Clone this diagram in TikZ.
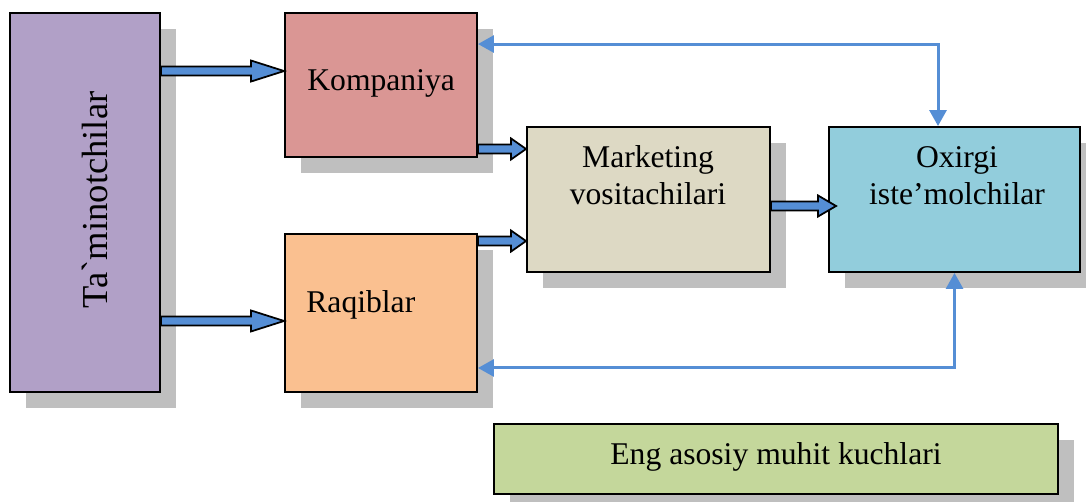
\documentclass[tikz,border=0pt]{standalone}
\usepackage{fontspec}
\setmainfont{Liberation Serif}
\usetikzlibrary{shadows,arrows.meta,calc}
\definecolor{tamrang}{HTML}{B1A0C7}
\definecolor{komprang}{HTML}{DA9694}
\definecolor{raqrang}{HTML}{FAC090}
\definecolor{vosrang}{HTML}{DDD9C4}
\definecolor{isterang}{HTML}{92CDDC}
\definecolor{muhrang}{HTML}{C4D79B}
\definecolor{strelka}{HTML}{558ED5}

\begin{document}
\begin{tikzpicture}[
  box/.style={draw=black,line width=1.1pt,inner sep=0pt,
    general shadow={fill=black!25,shadow xshift=0.32cm,shadow yshift=-0.32cm}},
  yozuv/.style={inner sep=0pt,font=\fontsize{18}{21}\selectfont},
  blokstrelka/.style={fill=strelka,draw=black,line width=1pt,line join=miter,
    to path={let \p1=(\tikztostart), \p2=(\tikztotarget) in
      (\x1,\y1+0.09cm) -- (\x2-#1,\y1+0.09cm) -- (\x2-#1,\y1+0.21cm) -- (\x2,\y1)
      -- (\x2-#1,\y1-0.21cm) -- (\x2-#1,\y1-0.09cm) -- (\x1,\y1-0.09cm) -- cycle}},
  aloqa/.style={draw=strelka,line width=1.7pt,
    {Triangle[length=0.32cm,width=0.34cm]}-{Triangle[length=0.32cm,width=0.34cm]}}
]
\useasboundingbox (0,0) rectangle (21.72,-10.02);
% bloklar
\node[box,fill=tamrang,minimum width=3cm,minimum height=7.58cm] (tam) at (1.70,-4.05) {};
\node[box,fill=komprang,minimum width=3.84cm,minimum height=2.88cm] (komp) at (7.62,-1.70) {};
\node[box,fill=raqrang,minimum width=3.84cm,minimum height=3.16cm] (raq) at (7.62,-6.26) {};
\node[box,fill=vosrang,minimum width=4.86cm,minimum height=2.90cm] (vos) at (12.97,-3.99) {};
\node[box,fill=isterang,minimum width=5.02cm,minimum height=2.90cm] (iste) at (19.09,-3.99) {};
\node[box,fill=muhrang,minimum width=11.28cm,minimum height=1.40cm] (muh) at (15.52,-9.18) {};
% yozuvlar
\node[inner sep=0pt,font=\fontsize{20.8}{24}\selectfont,rotate=90] (tamt) at (1.90,-4.00) {Ta\textasciigrave minotchilar};
\node[yozuv,anchor=base west] (kompt) at (6.14,-1.82) {Kompaniya};
\node[yozuv,anchor=base west] (raqt) at (6.12,-6.24) {Raqiblar};
\node[yozuv,align=center] (vost) at (12.96,-3.51) {Marketing\\vositachilari};
\node[yozuv,align=center] (istet) at (19.14,-3.51) {Oxirgi\\iste’molchilar};
\node[yozuv,anchor=base] (muht) at (15.52,-9.28) {Eng asosiy muhit kuchlari};
% strelkalar
\draw[blokstrelka=0.66cm] ([yshift=-1.18cm]tam.north east) to ([yshift=-1.18cm]komp.north west);
\draw[blokstrelka=0.66cm] ([yshift=1.44cm]tam.south east) to ([yshift=1.44cm]raq.south west);
\draw[blokstrelka=0.30cm] ([yshift=0.18cm]komp.south east) to ([yshift=-0.42cm]vos.north west);
\draw[blokstrelka=0.30cm] ([yshift=-0.16cm]raq.north east) to ([yshift=0.60cm]vos.south west);
\draw[blokstrelka=0.36cm] ([yshift=-0.13cm]vos.east) to ([xshift=0.16cm,yshift=-0.13cm]iste.west);
\draw[aloqa] ([yshift=-0.64cm]komp.north east) -| ([xshift=-0.33cm]iste.north);
\draw[aloqa] ([yshift=0.50cm]raq.south east) -| (iste.south);
\end{tikzpicture}
\end{document}
